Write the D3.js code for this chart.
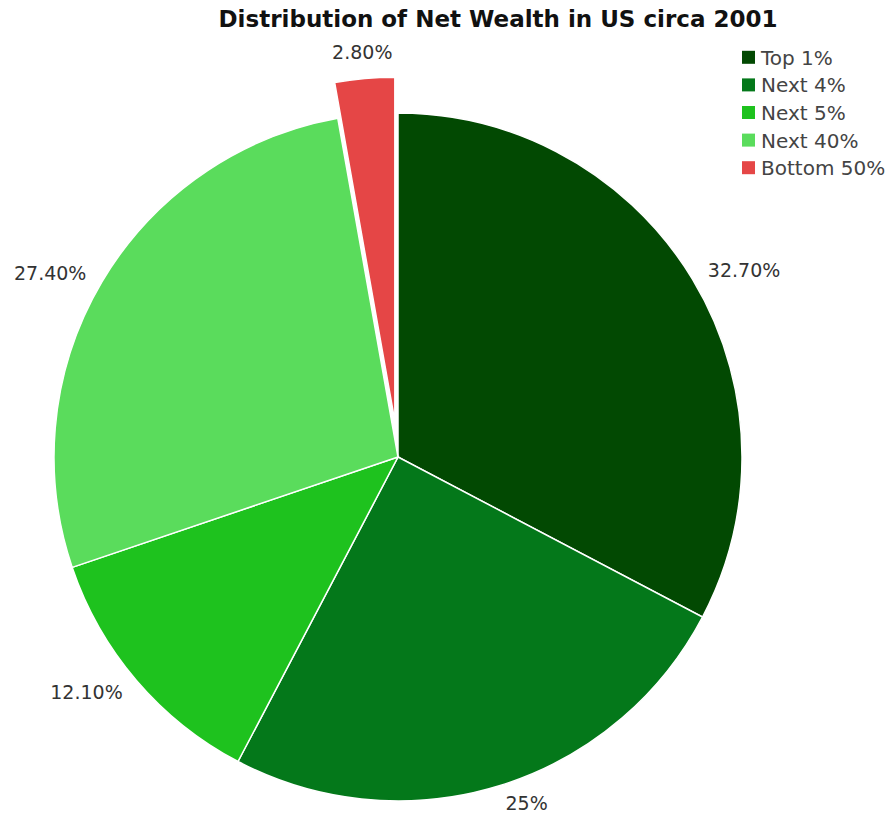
<!DOCTYPE html>
<html>
<head>
<meta charset="utf-8">
<script src="https://cdn.jsdelivr.net/npm/d3@7"></script>
<style>
  html, body { margin: 0; padding: 0; background: #fff; }
  svg { display: block; font-family: 'DejaVu Sans', Verdana, sans-serif; }
</style>
</head>
<body>
<div id="chart"></div>
<script>
// Distribution of Net Wealth in US circa 2001 - pie chart
const groups = ['Top 1%', 'Next 4%', 'Next 5%', 'Next 40%', 'Bottom 50%'];
const shares = [32.7, 25, 12.1, 27.4, 2.8];
const shareLabels = ['32.70%', '25%', '12.10%', '27.40%', '2.80%'];
const exploded = [false, false, false, false, true];
const palette = ['#024902', '#04781a', '#1ec21e', '#5adc5c', '#e54646'];

(function () {
  const width = 889;
  const height = 818;
  const cx = 398;
  const cy = 457;
  const radius = 344;
  const explodeBy = 36;
  const labelR = 362;

  const svg = d3.select('#chart')
    .append('svg')
    .attr('width', width)
    .attr('height', height);

  const color = d3.scaleOrdinal().domain(groups).range(palette);

  const data = groups.map((g, i) => ({
    group: g,
    value: shares[i],
    label: shareLabels[i],
    explode: exploded[i]
  }));

  const pie = d3.pie().sort(null).value((d) => d.value);
  const arc = d3.arc().innerRadius(0).outerRadius(radius);
  const labelArc = d3.arc().innerRadius(labelR).outerRadius(labelR);

  const g = svg.append('g').attr('transform', `translate(${cx},${cy})`);

  const slices = pie(data);
  const mid = (d) => (d.startAngle + d.endAngle) / 2;

  // offset for the pulled-out slice
  const shift = (d, dist) => {
    const a = mid(d);
    return [Math.sin(a) * dist, -Math.cos(a) * dist];
  };

  g.selectAll('path.slice')
    .data(slices)
    .enter()
    .append('path')
    .attr('class', 'slice')
    .attr('d', arc)
    .attr('transform', (d) => {
      const [dx, dy] = d.data.explode ? shift(d, explodeBy) : [0, 0];
      return `translate(${dx},${dy})`;
    })
    .attr('fill', (d) => color(d.data.group))
    .attr('stroke', '#fff')
    .attr('stroke-width', 1.5);

  // percentage labels, anchored away from the pie
  g.selectAll('text.pct')
    .data(slices)
    .enter()
    .append('text')
    .attr('class', 'pct')
    .attr('transform', (d) => {
      const [x, y] = labelArc.centroid(d);
      const [dx, dy] = d.data.explode ? shift(d, 45) : [0, 0];
      return `translate(${x + dx},${y + dy})`;
    })
    .attr('text-anchor', (d) => {
      const s = Math.sin(mid(d));
      if (Math.abs(s) < 0.2) return 'middle';
      return s > 0 ? 'start' : 'end';
    })
    .attr('dominant-baseline', 'central')
    .attr('fill', '#333')
    .attr('font-size', 19)
    .text((d) => d.data.label);

  // title
  svg.append('text')
    .attr('x', 498)
    .attr('y', 19)
    .attr('text-anchor', 'middle')
    .attr('dominant-baseline', 'central')
    .attr('fill', '#111')
    .attr('font-weight', 'bold')
    .attr('font-size', 23)
    .text('Distribution of Net Wealth in US circa 2001');

  // legend
  const rowY = d3.scaleBand().domain(groups).range([44, 182]);
  const legend = svg.append('g').attr('class', 'legend');

  const item = legend.selectAll('g')
    .data(groups)
    .enter()
    .append('g')
    .attr('transform', (d) => `translate(742,${rowY(d) + rowY.bandwidth() / 2})`);

  item.append('rect')
    .attr('x', 0)
    .attr('y', -7)
    .attr('width', 13)
    .attr('height', 13)
    .attr('fill', (d) => color(d));

  item.append('text')
    .attr('x', 19)
    .attr('y', 0)
    .attr('dominant-baseline', 'central')
    .attr('fill', '#444')
    .attr('font-size', 20)
    .text((d) => d);
})();
</script>
</body>
</html>
